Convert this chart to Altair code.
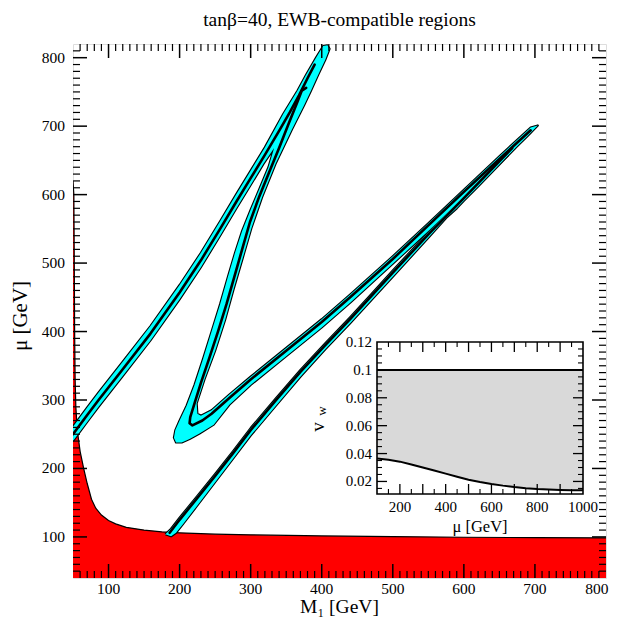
import altair as alt
import pandas as pd

# ---------------- text ----------------
TITLE = "tanβ=40, EWB-compatible regions"
X_TITLE = "M₁ [GeV]"
Y_TITLE = "μ [GeV]"
INSET_X_TITLE = "μ [GeV]"
INSET_Y_TITLE = "v"
INSET_Y_SUB = "w"
FONT = "Liberation Serif"

# ---------------- main axes ----------------
X_DOMAIN = [50, 800]
Y_DOMAIN = [40, 820]
X_LABELS = [100, 200, 300, 400, 500, 600, 700, 800]
Y_LABELS = [100, 200, 300, 400, 500, 600, 700, 800]

# red (excluded) region: upper boundary (M1, mu)
red_m1 = [50, 51.2, 51.8, 52.3, 53, 54, 56, 60, 65, 70, 76, 82, 90, 100, 110, 125, 150, 175, 200, 250, 300,
          400, 500, 600, 700, 800]
red_mu = [620, 600, 500, 400, 330, 290, 256, 225, 200, 178, 155, 142, 132, 124, 119, 114, 110, 107.5, 106,
          104, 103, 101.5, 100.5, 99.5, 99, 98.5]

# cyan region: left band + V + upper-right band (outline, M1, mu)
band_avc = [
    (50, 240), (70, 268), (86, 290), (120, 335), (159, 387), (200, 447), (230, 494), (257, 540),
    (280, 580), (300, 614), (318, 645), (333, 668),
    (325, 640), (313, 610), (300, 578), (288, 547), (278, 515), (268, 480), (257, 440), (245, 400),
    (233, 360), (221, 322), (210, 292), (200, 270), (194, 256), (192, 245), (195, 238), (203, 238),
    (214, 243), (228, 251), (248, 264),
    (270, 293), (300, 322), (350, 364), (400, 406), (440, 442), (500, 499), (550, 547), (600, 596),
    (650, 645), (690, 686), (704, 701),
    (694, 698), (650, 656), (600, 607), (550, 558), (500, 510), (440, 454), (400, 418), (350, 376),
    (300, 334), (270, 308), (245, 285), (230, 277), (225, 280),
    (224, 295), (235, 330), (250, 372), (264, 417), (276, 462), (289, 508), (301, 551), (316, 596),
    (335, 645), (358, 695), (375, 730), (385, 752), (395, 775), (405, 797), (411, 813),
    (408, 818), (402, 817),
    (392, 800), (378, 775), (366, 752), (346, 718), (320, 669), (300, 635), (280, 601), (257, 561),
    (230, 515), (200, 468), (159, 408), (120, 356), (86, 311), (70, 289), (50, 261),
]

# cyan region: lower band (outline, M1, mu)
band_d = [
    (180, 104), (188, 112), (200, 128), (225, 160), (250, 192), (275, 225), (300, 259), (335, 302),
    (370, 344), (405, 383), (440, 421), (470, 455), (500, 489), (550, 545), (600, 598), (640, 641),
    (668, 671),
    (672, 668), (650, 644), (620, 612), (600, 591), (590, 580), (575, 566), (550, 537), (500, 480),
    (470, 446), (440, 412), (405, 374), (370, 334), (335, 291), (300, 248), (275, 214), (250, 180),
    (225, 146), (205, 119), (195, 106), (188, 101),
]

# inner black contours (M1, mu)
line_a = [(50, 250), (70, 278), (86, 300), (120, 345), (159, 397), (200, 457), (230, 504), (257, 550),
          (280, 590), (300, 624), (320, 658), (340, 693), (355, 720), (368, 745), (380, 770), (390, 790)]
line_vc = [(378, 756), (372, 752), (366, 736), (352, 700), (340, 668), (325, 630), (312, 597), (299, 560),
           (288, 520), (277, 480), (266, 440), (254, 400), (242, 362), (230, 325), (221, 295), (215, 275),
           (214, 266), (218, 263), (232, 270), (245, 280), (270, 303), (300, 330), (350, 372), (400, 414),
           (440, 450), (500, 506), (550, 555), (600, 604), (650, 652), (694, 694)]
line_d = [(186, 106), (200, 125), (225, 157), (250, 189), (275, 222), (300, 256), (335, 299), (370, 341),
          (405, 380), (440, 418), (470, 452), (500, 486), (550, 542), (600, 595), (640, 638), (668, 668)]

# ---------------- inset ----------------
INSET_X_DOMAIN = [100, 1000]
INSET_Y_DOMAIN = [0.011, 0.12]
INSET_X_LABELS = [200, 400, 600, 800, 1000]
INSET_Y_LABELS = [0.02, 0.04, 0.06, 0.08, 0.1, 0.12]
INSET_UPPER = 0.1
inset_mu = [100, 150, 200, 250, 300, 350, 400, 450, 500, 550, 600, 650, 700, 750, 800, 850, 900, 950, 1000]
inset_vw = [0.0365, 0.0355, 0.0342, 0.0322, 0.0300, 0.0278, 0.0256, 0.0234, 0.0212, 0.0196, 0.0182,
            0.0170, 0.0160, 0.0152, 0.0146, 0.0142, 0.0139, 0.0137, 0.0136]

# ---------------- layout (pixels) ----------------
W, H = 533, 534
INSET_X_RANGE = [304, 510]
INSET_Y_RANGE = [450, 298]
IB, IT = INSET_Y_RANGE
IL, IR = INSET_X_RANGE

xs = alt.Scale(domain=X_DOMAIN, nice=False, zero=False)
ys = alt.Scale(domain=Y_DOMAIN, nice=False, zero=False)
ixs = alt.Scale(domain=INSET_X_DOMAIN, range=INSET_X_RANGE, nice=False, zero=False)
iys = alt.Scale(domain=INSET_Y_DOMAIN, range=INSET_Y_RANGE, nice=False, zero=False)


def pts_df(pts, name):
    return pd.DataFrame({"M1": [p[0] for p in pts], "mu": [p[1] for p in pts],
                         "i": list(range(len(pts))), "g": name})


def XE(field, scale):
    return alt.X(field, scale=scale, axis=None)


def YE(field, scale):
    return alt.Y(field, scale=scale, axis=None)


poly_df = pd.concat([pts_df(band_avc + band_avc[:1], "avc"), pts_df(band_d + band_d[:1], "d")])
lines_df = pd.concat([pts_df(line_a, "a"), pts_df(line_vc, "vc"), pts_df(line_d, "d")])
red_df = pd.DataFrame({"M1": red_m1, "mu": red_mu, "floor": Y_DOMAIN[0]})

red_area = alt.Chart(red_df).mark_area(color="#ff0000", clip=True).encode(
    x=XE("M1:Q", xs), y=YE("mu:Q", ys), y2="floor:Q")
red_edge = alt.Chart(red_df).mark_line(color="black", strokeWidth=1.2, clip=True).encode(
    x=XE("M1:Q", xs), y=YE("mu:Q", ys))

poly_stroke = alt.Chart(poly_df).mark_line(fill="#00ffff", stroke="black", strokeWidth=2.2,
                                           strokeJoin="round", clip=True).encode(
    x=XE("M1:Q", xs), y=YE("mu:Q", ys), order="i:Q", detail="g:N")
poly_fill = alt.Chart(poly_df).mark_line(fill="#00ffff", stroke="#00ffff", strokeOpacity=0,
                                         clip=True).encode(
    x=XE("M1:Q", xs), y=YE("mu:Q", ys), order="i:Q", detail="g:N")
inner = alt.Chart(lines_df).mark_line(color="black", strokeWidth=2.6, strokeJoin="round",
                                      strokeCap="round", clip=True).encode(
    x=XE("M1:Q", xs), y=YE("mu:Q", ys), order="i:Q", detail="g:N")


def xticks(vals, scale, y_bot, y_top, length, width):
    base = alt.Chart(pd.DataFrame({"v": vals})).mark_rule(color="black", strokeWidth=width)
    xe = XE("v:Q", scale)
    return [base.encode(x=xe, y=alt.value(y_bot), y2=alt.value(y_bot - length)),
            base.encode(x=xe, y=alt.value(y_top), y2=alt.value(y_top + length))]


def yticks(vals, scale, x_left, x_right, length, width):
    base = alt.Chart(pd.DataFrame({"v": vals})).mark_rule(color="black", strokeWidth=width)
    ye = YE("v:Q", scale)
    return [base.encode(y=ye, x=alt.value(x_left), x2=alt.value(x_left + length)),
            base.encode(y=ye, x=alt.value(x_right), x2=alt.value(x_right - length))]


def xlabels(vals, scale, y_px, size, align="center", dx=0):
    df = pd.DataFrame({"v": vals, "t": [f"{v:g}" for v in vals]})
    return alt.Chart(df).mark_text(font=FONT, fontSize=size, color="black", baseline="top",
                                   align=align, dx=dx).encode(x=XE("v:Q", scale), y=alt.value(y_px), text="t:N")


def ylabels(vals, scale, x_px, size):
    df = pd.DataFrame({"v": vals, "t": [f"{v:g}" for v in vals]})
    return alt.Chart(df).mark_text(font=FONT, fontSize=size, color="black", baseline="middle",
                                   align="right").encode(y=YE("v:Q", scale), x=alt.value(x_px), text="t:N")


def label(text, x_px, y_px, size, angle=0):
    return alt.Chart(pd.DataFrame({"t": [text]})).mark_text(
        font=FONT, fontSize=size, color="black", angle=angle, baseline="middle", align="center"
    ).encode(text="t:N", x=alt.value(x_px), y=alt.value(y_px))


minor_x = [v for v in range(60, 800, 10) if v % 100]
minor_y = [v for v in range(50, 820, 10) if v % 100]
main_ticks = (xticks(X_LABELS[:-1], xs, H, 0, 14, 1.5) + xticks(minor_x, xs, H, 0, 7, 1.2)
              + yticks(Y_LABELS, ys, 0, W, 14, 1.5) + yticks(minor_y, ys, 0, W, 7, 1.2))

main = alt.layer(
    red_area, red_edge, poly_stroke, poly_fill, inner, *main_ticks,
    xlabels(X_LABELS[:-1], xs, H + 3.5, 15.5),
    xlabels(X_LABELS[-1:], xs, H + 3.5, 15.5, align="right", dx=2.5),
    ylabels(Y_LABELS, ys, -8, 15.5),
    label(X_TITLE, W / 2, H + 29, 19.5), label(Y_TITLE, -52, 272, 21, angle=270),
)

# ---------------- inset chart ----------------
inset_df = pd.DataFrame({"mu": inset_mu, "vw": inset_vw, "upper": INSET_UPPER})
box_df = pd.DataFrame({"x0": [INSET_X_DOMAIN[0]], "x1": [INSET_X_DOMAIN[1]],
                       "y0": [INSET_Y_DOMAIN[0]], "y1": [INSET_Y_DOMAIN[1]]})

box_bg = alt.Chart(box_df).mark_rect(fill="white").encode(
    x=XE("x0:Q", ixs), x2="x1:Q", y=YE("y0:Q", iys), y2="y1:Q")
gray = alt.Chart(inset_df).mark_area(color="#d9d9d9").encode(
    x=XE("mu:Q", ixs), y=YE("vw:Q", iys), y2="upper:Q")
upper_line = alt.Chart(inset_df).mark_line(color="black", strokeWidth=2).encode(
    x=XE("mu:Q", ixs), y=YE("upper:Q", iys))
curve = alt.Chart(inset_df).mark_line(color="black", strokeWidth=2).encode(
    x=XE("mu:Q", ixs), y=YE("vw:Q", iys))

inset_major_x = list(range(200, 1000, 100))
inset_minor_x = list(range(150, 1000, 100))
inset_major_y = [0.02, 0.04, 0.06, 0.08, 0.1]
inset_minor_y = [round(0.015 + 0.005 * k, 3) for k in range(21)]
inset_minor_y = [v for v in inset_minor_y if v not in inset_major_y]
inset_ticks = (xticks(inset_major_x, ixs, IB, IT, 10, 1.3) + xticks(inset_minor_x, ixs, IB, IT, 5, 1.1)
               + yticks(inset_major_y, iys, IL, IR, 10, 1.3) + yticks(inset_minor_y, iys, IL, IR, 5, 1.1))

box_frame = alt.Chart(box_df).mark_rect(fill="white", fillOpacity=0, stroke="black", strokeWidth=1.6).encode(
    x=XE("x0:Q", ixs), x2="x1:Q", y=YE("y0:Q", iys), y2="y1:Q")

inset = alt.layer(
    box_bg, gray, upper_line, curve, *inset_ticks, box_frame,
    xlabels(INSET_X_LABELS, ixs, IB + 6, 15), ylabels(INSET_Y_LABELS, iys, IL - 5, 15),
    label(INSET_X_TITLE, (IL + IR) / 2, IB + 33, 16.5),
    label(INSET_Y_TITLE, 245, 383, 19, angle=270), label(INSET_Y_SUB, 249, 367, 13, angle=270),
)

chart = alt.layer(main, inset).resolve_scale(x="independent", y="independent").properties(
    width=W, height=H,
    autosize=alt.AutoSizeParams(type="none"),
    padding={"left": 65, "top": 36, "right": 3, "bottom": 39},
    title=alt.TitleParams(TITLE, font=FONT, fontSize=19.5, fontWeight="normal", color="black",
                          anchor="middle", offset=13),
).configure_view(stroke="black", strokeWidth=2).configure(background="white")

chart.save("out.html", embed_options={"renderer": "svg", "actions": False})
